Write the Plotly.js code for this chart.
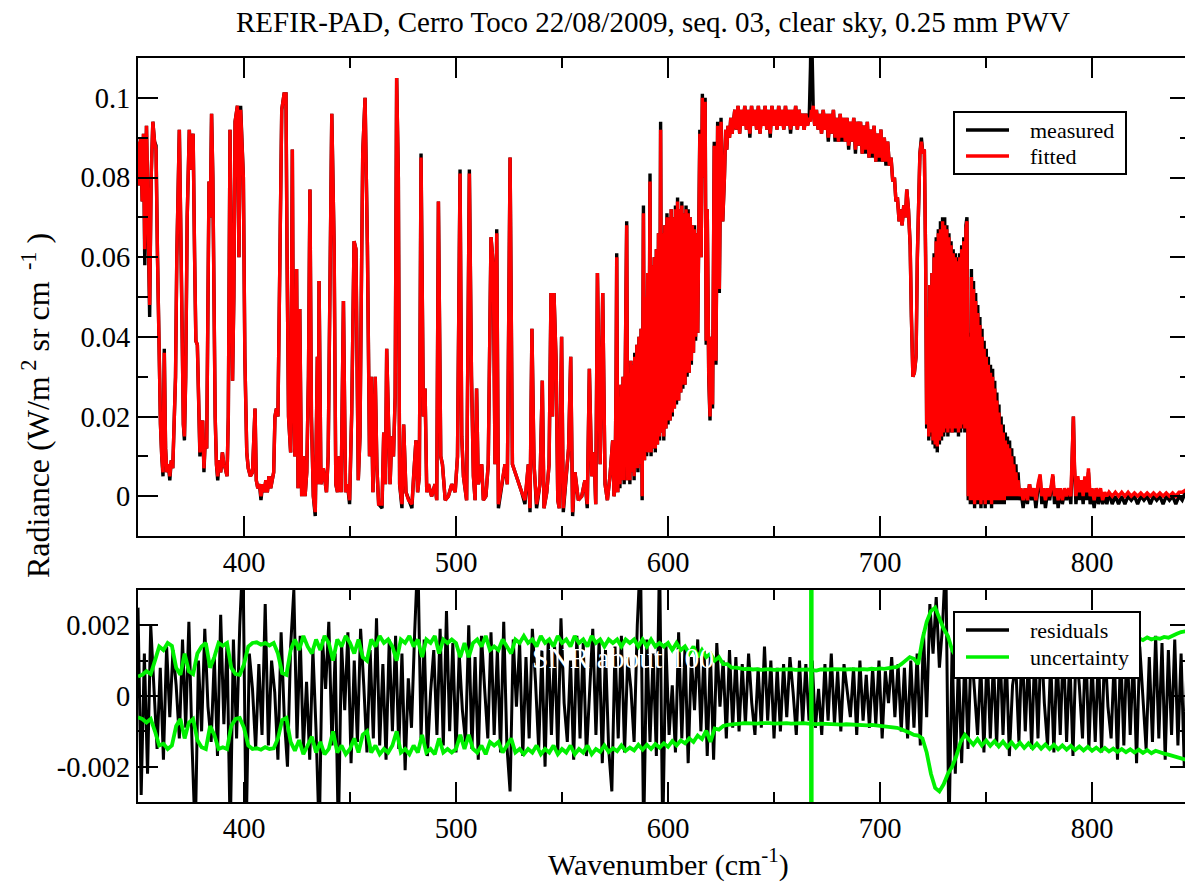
<!DOCTYPE html>
<html>
<head>
<meta charset="utf-8">
<script src="https://cdn.plot.ly/plotly-3.0.1.min.js"></script>
<style>
html,body{margin:0;padding:0;overflow:hidden;background:#fff;}
#chart{width:1195px;height:882px;}
</style>
</head>
<body>
<div id="chart"></div>
<script>
// ---------- Spectrum: wavenumber (cm-1), measured and fitted radiance ----------
const wnA = [350.0,350.6,351.2,352.0,352.6,353.2,354.0,354.7,355.5,356.2,
357.0,357.8,358.5,359.2,360.0,360.6,361.2,361.8,362.4,363.0,
363.6,364.3,365.0,365.7,366.4,367.0,367.7,368.3,369.0,369.5,
370.1,370.8,371.4,371.9,372.5,373.2,374.2,375.0,376.0,376.7,
377.3,378.0,378.6,379.2,379.9,380.5,381.1,381.7,382.4,383.0,
383.5,384.1,384.7,385.3,385.8,386.4,387.0,387.6,388.3,389.0,
389.8,390.5,391.2,392.0,392.6,393.4,394.0,394.6,395.2,395.8,
396.9,397.6,398.4,399.1,399.7,400.4,401.3,402.0,403.0,404.0,
404.6,405.2,405.8,406.5,407.3,408.0,408.8,409.5,410.3,411.0,
411.8,412.6,413.3,414.0,414.6,415.3,416.0,416.8,417.8,418.9,
419.8];
const measA = [0.089,0.078,0.090,0.074,0.091,0.058,0.093,0.072,0.045,0.080,
0.094,0.089,0.088,0.060,0.030,0.018,0.010,0.005,0.037,0.012,
0.006,0.008,0.004,0.009,0.007,0.019,0.030,0.060,0.085,0.092,
0.070,0.030,0.018,0.014,0.030,0.070,0.092,0.082,0.091,0.060,
0.039,0.038,0.018,0.010,0.015,0.019,0.006,0.014,0.012,0.040,
0.079,0.070,0.096,0.080,0.045,0.020,0.008,0.004,0.009,0.006,
0.011,0.008,0.007,0.005,0.020,0.092,0.060,0.029,0.050,0.094,
0.098,0.060,0.098,0.088,0.080,0.035,0.011,0.007,0.005,0.006,
0.012,0.022,0.004,0.002,0.003,-0.001,0.003,0.001,0.004,0.001,
0.005,0.002,0.004,0.006,0.020,0.022,0.020,0.060,0.097,0.101,
0.101];
const fitA = [0.089,0.078,0.090,0.074,0.091,0.062,0.093,0.072,0.048,0.080,
0.094,0.089,0.087,0.060,0.030,0.018,0.010,0.006,0.036,0.012,
0.006,0.008,0.005,0.009,0.007,0.019,0.030,0.060,0.085,0.092,
0.070,0.030,0.018,0.015,0.030,0.070,0.092,0.082,0.091,0.060,
0.039,0.038,0.018,0.011,0.015,0.019,0.007,0.014,0.012,0.040,
0.079,0.070,0.096,0.080,0.045,0.020,0.008,0.005,0.009,0.006,
0.011,0.008,0.007,0.005,0.020,0.092,0.060,0.029,0.050,0.094,
0.098,0.060,0.097,0.088,0.080,0.035,0.011,0.007,0.005,0.006,
0.012,0.022,0.004,0.002,0.003,0.000,0.003,0.001,0.004,0.001,
0.005,0.002,0.004,0.006,0.020,0.022,0.020,0.060,0.097,0.101,
0.101];

const wnB = [420.3,421.0,422.0,422.8,423.3,424.0,424.8,425.5,426.3,427.2,
428.0,428.8,429.6,430.4,431.1,431.8,432.7,433.6,434.6,435.0,
435.4,436.3,437.4,438.9,439.7,440.4,441.4,442.5,443.3,444.1,
444.9,445.8,446.9,447.9,448.8,449.8,450.8,451.9,452.8,453.9,
454.7,455.5,456.0,457.1,458.2,459.2,460.0,460.8,461.9,462.7,
463.5,465.1,465.9,466.7,467.3,468.1,468.9,469.7,470.5,471.3,
472.0,472.8,473.4,474.5,475.3,476.4,477.6,479.2,480.0,481.1,
481.9,482.7,483.5,484.6,485.4,486.2,487.0,488.5,490.1,490.9,
491.7,492.8,493.6,494.9,496.4,498.0,499.6,500.7,501.9,502.7,
503.5,505.0];
const measB = [0.061,0.020,0.011,0.087,0.029,0.010,0.057,0.002,0.047,0.000,
0.010,0.000,0.006,0.030,0.077,0.020,0.000,-0.005,0.035,0.003,
0.054,0.003,0.007,0.001,0.010,0.050,0.096,0.063,0.003,0.001,
0.010,0.001,0.049,0.001,0.003,-0.002,0.021,0.064,0.062,0.004,
0.015,0.060,0.086,0.100,0.063,0.010,0.030,0.001,0.030,0.007,
-0.002,-0.003,0.016,0.003,0.037,0.020,0.003,0.015,0.010,0.025,
0.105,0.080,0.003,-0.003,0.018,0.001,-0.001,-0.003,0.005,0.014,
0.001,0.005,0.086,0.020,0.027,0.001,0.003,0.000,0.003,-0.001,
0.074,0.010,0.008,-0.001,0.000,0.003,0.001,0.010,0.082,0.015,
0.005,-0.001];
const fitB = [0.061,0.020,0.011,0.087,0.029,0.010,0.057,0.002,0.047,0.000,
0.010,0.000,0.006,0.030,0.077,0.020,0.000,-0.004,0.035,0.003,
0.054,0.003,0.007,0.001,0.010,0.050,0.096,0.063,0.003,0.001,
0.010,0.001,0.049,0.001,0.003,-0.001,0.021,0.064,0.062,0.004,
0.015,0.060,0.086,0.100,0.063,0.010,0.030,0.001,0.030,0.007,
-0.002,-0.002,0.016,0.003,0.037,0.020,0.003,0.015,0.010,0.025,
0.105,0.080,0.003,-0.002,0.018,0.001,-0.001,-0.002,0.005,0.014,
0.001,0.005,0.085,0.020,0.027,0.001,0.003,0.000,0.003,-0.001,
0.074,0.010,0.008,-0.001,0.000,0.003,0.001,0.010,0.081,0.015,
0.005,-0.001];

const wnC = [506.3,507.3,508.2,509.0,509.7,510.5,512.1,512.9,514.1,515.2,
516.5,517.6,518.4,519.2,520.0,521.5,523.1,524.2,525.5,526.6,
527.8,529.4,531.0,532.5,534.1,534.9,535.8,536.8,538.0,539.6,
540.7,541.5,542.8,543.9,544.8,545.5,546.2,547.2,548.0,548.7,
549.8,550.6,552.2,553.1,554.1,555.0,556.1,557.7,559.3,560.8,
561.9,562.9,564.0,565.1,565.9,566.7,568.0,569.2,570.3,571.4,
572.6,573.9,574.5];
const measC = [0.082,0.030,0.005,-0.001,0.027,0.003,0.008,-0.001,0.000,0.008,
0.065,0.058,0.008,0.067,-0.003,0.003,0.008,0.003,0.085,0.008,
0.006,0.004,0.001,-0.002,0.008,-0.004,0.042,0.008,-0.003,0.003,
0.029,-0.003,0.001,0.008,0.051,0.020,0.051,0.034,-0.001,-0.003,
0.040,-0.004,0.006,0.012,0.035,-0.005,0.006,-0.001,0.000,0.004,
-0.003,0.032,0.005,0.011,-0.002,0.056,0.008,0.051,0.003,-0.001,
0.005,0.014,0.000];
const fitC = [0.081,0.030,0.005,-0.001,0.027,0.003,0.008,-0.001,0.000,0.008,
0.065,0.058,0.008,0.066,-0.002,0.003,0.008,0.003,0.085,0.008,
0.006,0.004,0.001,-0.001,0.008,-0.003,0.042,0.008,-0.002,0.003,
0.029,-0.003,0.001,0.008,0.051,0.020,0.051,0.034,-0.001,-0.003,
0.040,-0.003,0.006,0.012,0.035,-0.004,0.006,-0.001,0.000,0.004,
-0.002,0.032,0.005,0.011,-0.002,0.056,0.008,0.051,0.003,-0.001,
0.005,0.014,0.000];

const wnD = [575.0,575.5,575.8,576.3,576.8,577.3,577.8,578.3,578.8,579.3,
579.8,580.5,581.0,581.5,582.0,582.5,583.0,583.5,584.0,584.3,
584.8,585.3,585.8,586.3,586.8,587.3,587.8,588.4,588.9,589.4,
589.9,590.4,590.9,591.5,592.0,592.5,593.0,593.5,594.0,594.5,
595.0,595.5,596.0,596.5,597.0,597.5,598.0,598.5,599.0,599.5,
600.0,600.5,601.0,601.5,602.0,602.5,603.0,603.5,604.0,604.5,
605.0,605.5,606.0,606.5,607.0,607.5,608.0,608.5,609.0,609.5,
610.0,610.5,611.0,611.5,612.0,612.5,613.0,613.5,614.0,614.5,
615.0,615.6,616.2,616.8,617.5,618.0,618.5,619.2,619.8,620.4,
621.0,621.8,622.6,623.4,624.2,625.0,625.8,626.6,627.2,627.7,
628.3,629.0,629.6,630.2,630.8];
const measD = [0.002,0.030,0.061,0.001,0.025,0.002,0.028,0.004,0.030,0.003,
0.033,0.069,0.004,0.031,0.003,0.034,0.006,0.033,0.004,0.036,
0.007,0.038,0.006,0.040,0.008,0.042,-0.001,0.073,0.009,0.050,
0.010,0.056,0.011,0.081,0.010,0.058,0.012,0.060,0.011,0.062,
0.013,0.066,0.014,0.094,0.016,0.066,0.014,0.068,0.017,0.071,
0.018,0.070,0.019,0.072,0.020,0.070,0.022,0.073,0.023,0.075,
0.024,0.072,0.026,0.074,0.027,0.071,0.028,0.073,0.030,0.072,
0.031,0.070,0.033,0.068,0.036,0.068,0.039,0.066,0.041,0.075,
0.092,0.060,0.101,0.080,0.100,0.038,0.072,0.030,0.019,0.040,
0.022,0.089,0.033,0.094,0.051,0.095,0.069,0.080,0.092,0.087,
0.093,0.090,0.095,0.091,0.094];
const fitD = [0.002,0.030,0.060,0.001,0.025,0.003,0.028,0.004,0.030,0.004,
0.033,0.068,0.004,0.031,0.004,0.034,0.006,0.033,0.005,0.035,
0.007,0.038,0.007,0.040,0.008,0.042,0.000,0.071,0.009,0.050,
0.011,0.056,0.011,0.079,0.011,0.058,0.012,0.060,0.012,0.062,
0.013,0.066,0.015,0.092,0.016,0.066,0.015,0.068,0.017,0.070,
0.019,0.070,0.019,0.072,0.021,0.070,0.022,0.072,0.024,0.074,
0.024,0.072,0.026,0.073,0.028,0.071,0.028,0.072,0.031,0.071,
0.031,0.070,0.034,0.068,0.036,0.067,0.040,0.066,0.041,0.074,
0.091,0.060,0.100,0.080,0.099,0.039,0.072,0.031,0.020,0.040,
0.023,0.088,0.034,0.093,0.052,0.094,0.069,0.080,0.092,0.087,
0.093,0.090,0.095,0.091,0.094];

const wnE = [631.5,632.2,633.0,633.8,634.6,635.4,636.2,637.0,637.8,638.6,
639.4,640.2,641.0,641.8,642.6,643.4,644.2,645.0,645.8,646.6,
647.4,648.2,649.0,649.8,650.6,651.4,652.2,653.0,653.8,654.6,
655.4,656.2,657.0,657.8,658.6,659.4,660.2,661.0,661.8,662.6,
663.4,664.2,665.0,665.8,666.6,667.2,667.6,668.0,668.5,669.2,
670.0,670.8,671.6,672.4,673.2,674.0,674.8,675.6,676.4,677.2,
678.0,678.8,679.6,680.4,681.2,682.0,682.8,683.6,684.4,685.2,
686.0,686.8,687.6,688.4,689.2,690.0,690.8,691.6,692.4,693.2,
694.0,694.8,695.6,696.4,697.2,698.0,698.8,699.6,700.4,701.2,
702.0,702.8,703.6,704.4];
const measE = [0.097,0.092,0.098,0.091,0.097,0.093,0.098,0.092,0.097,0.090,
0.098,0.093,0.097,0.092,0.098,0.091,0.097,0.093,0.098,0.092,
0.097,0.090,0.098,0.093,0.097,0.092,0.098,0.093,0.097,0.092,
0.098,0.093,0.097,0.091,0.097,0.093,0.098,0.092,0.097,0.093,
0.096,0.092,0.096,0.093,0.095,0.108,0.125,0.110,0.097,0.093,
0.097,0.092,0.096,0.091,0.097,0.092,0.096,0.089,0.096,0.091,
0.097,0.089,0.095,0.089,0.096,0.089,0.095,0.089,0.095,0.087,
0.094,0.089,0.095,0.086,0.094,0.088,0.094,0.086,0.093,0.086,
0.094,0.085,0.092,0.085,0.093,0.084,0.091,0.084,0.092,0.084,
0.090,0.083,0.089,0.083];
const fitE = [0.097,0.092,0.098,0.091,0.097,0.093,0.098,0.092,0.097,0.091,
0.098,0.093,0.097,0.092,0.098,0.091,0.097,0.093,0.098,0.092,
0.097,0.091,0.098,0.093,0.097,0.092,0.098,0.093,0.097,0.092,
0.098,0.093,0.097,0.092,0.097,0.093,0.098,0.092,0.097,0.093,
0.096,0.092,0.096,0.093,0.095,0.094,0.097,0.096,0.098,0.093,
0.097,0.092,0.096,0.091,0.097,0.092,0.096,0.090,0.096,0.091,
0.097,0.090,0.095,0.089,0.096,0.090,0.095,0.089,0.095,0.088,
0.094,0.089,0.095,0.087,0.094,0.088,0.094,0.086,0.093,0.087,
0.094,0.085,0.092,0.086,0.093,0.084,0.091,0.085,0.092,0.084,
0.090,0.084,0.089,0.083];

const wnF = [705.2,706.0,706.8,707.5,708.2,709.0,709.6,710.4,711.2,712.0,
712.6,713.4,714.2,714.8,715.5,716.2,717.0,717.6,718.2,718.8,
719.5,720.2,720.9,721.5,722.0,722.5,723.0,723.5,724.0,724.5,
725.0,725.5,726.0,726.5,727.0,727.5,728.0,728.5,729.0,729.5,
730.0,730.5,731.0,731.5,732.0,732.5,733.0,733.5,734.0,734.5,
735.0,735.5,736.0,736.5,737.0,737.5,738.0,738.5,739.0,739.5,
740.0,740.5,741.0,741.6,742.1,742.6,743.1,743.6,744.1,744.6,
745.1,745.6,746.1,746.6,747.1,747.6,748.1,748.6,749.1,749.6,
750.1,750.6,751.1,751.6,752.1,752.6,753.1,753.6,754.1,754.6,
755.1,755.6,756.1,756.6,757.1,757.6,758.1,758.6,759.1,759.6,
760.1,760.6,761.1,761.6,762.1,762.6,763.1,763.6,764.1,764.6,
765.1,765.8];
const measF = [0.085,0.079,0.080,0.074,0.075,0.069,0.072,0.068,0.073,0.070,
0.077,0.072,0.063,0.045,0.030,0.031,0.035,0.060,0.075,0.086,
0.090,0.086,0.087,0.060,0.017,0.045,0.014,0.053,0.015,0.056,
0.013,0.061,0.012,0.065,0.011,0.067,0.013,0.069,0.014,0.070,
0.015,0.070,0.016,0.068,0.015,0.066,0.016,0.064,0.016,0.062,
0.016,0.061,0.016,0.060,0.015,0.061,0.016,0.063,0.017,0.065,
0.016,0.068,0.070,-0.001,0.041,-0.002,0.057,-0.002,0.054,-0.003,
0.051,-0.002,0.048,-0.002,0.045,-0.003,0.042,-0.002,0.039,-0.003,
0.037,-0.002,0.035,-0.002,0.033,-0.003,0.032,-0.002,0.029,-0.002,
0.026,-0.002,0.023,-0.002,0.020,-0.002,0.018,-0.002,0.016,-0.001,
0.015,-0.001,0.014,-0.001,0.012,-0.001,0.010,-0.001,0.008,-0.001,
0.006,-0.001];
const fitF = [0.085,0.079,0.080,0.074,0.075,0.069,0.072,0.068,0.073,0.070,
0.077,0.072,0.063,0.045,0.030,0.031,0.035,0.060,0.075,0.086,
0.089,0.086,0.087,0.060,0.018,0.045,0.015,0.053,0.016,0.056,
0.014,0.060,0.013,0.064,0.0125,0.066,0.014,0.067,0.015,0.069,
0.016,0.068,0.017,0.067,0.016,0.065,0.017,0.063,0.016,0.061,
0.017,0.060,0.017,0.059,0.016,0.060,0.017,0.062,0.018,0.064,
0.017,0.067,0.069,0.000,0.040,-0.001,0.055,-0.001,0.052,-0.002,
0.049,-0.001,0.046,-0.001,0.043,-0.002,0.040,-0.001,0.037,-0.002,
0.035,-0.001,0.033,-0.001,0.031,-0.002,0.030,-0.001,0.027,-0.001,
0.024,-0.001,0.021,-0.001,0.018,-0.001,0.016,-0.001,0.014,0.000,
0.013,0.000,0.012,0.000,0.010,0.000,0.008,0.000,0.006,0.000,
0.004,0.000];

const wnG = [766.5,767.5,768.5,769.5,770.5,771.5,772.5,773.5,774.5,775.5,
776.3,777.2,778.0,779.0,780.0,781.0,781.5,782.3,783.2,784.0,
785.0,786.0,787.0,788.0,789.0,790.0,790.7,791.2,791.7,792.4,
793.3,794.2,795.0,795.8,796.6,797.4,798.3,799.1,800.0,801.0,
802.0,803.0,804.0,805.0,806.0,807.0,808.0,809.5,811.0,812.5,
814.0,815.5,817.0,818.5,820.0,821.5,823.0,824.5,826.0,827.5,
829.0,830.5,832.0,833.5,835.0,836.5,838.0,839.5,841.0,842.5,
844.0,846.0];
const measG = [0.001,-0.003,0.002,-0.002,0.003,-0.001,0.002,-0.003,0.002,0.005,
-0.002,0.002,-0.003,0.001,-0.001,0.003,0.005,-0.002,0.002,-0.003,
0.002,-0.002,0.001,-0.001,0.002,-0.002,0.009,0.020,0.007,-0.002,
0.004,-0.001,0.003,-0.002,0.004,-0.001,0.006,-0.002,0.001,-0.003,
0.002,-0.002,0.001,-0.002,0.000,-0.002,0.001,-0.002,0.000,-0.002,
0.000,-0.002,0.000,-0.001,0.000,-0.002,0.000,-0.001,0.000,-0.002,
0.000,-0.001,0.000,-0.002,0.000,-0.001,0.000,-0.002,0.000,-0.001,
0.001,0.001];
const fitG = [0.002,-0.001,0.002,-0.001,0.003,0.000,0.002,-0.001,0.003,0.0055,
0.000,0.002,-0.001,0.002,0.000,0.003,0.0055,0.000,0.002,-0.001,
0.002,-0.001,0.002,0.000,0.002,0.000,0.010,0.020,0.008,0.000,
0.005,0.001,0.004,0.000,0.005,0.001,0.007,0.000,0.002,-0.001,
0.002,0.000,0.002,-0.001,0.001,0.000,0.001,0.000,0.001,0.000,
0.001,0.000,0.001,0.000,0.0008,0.000,0.0008,0.000,0.0008,0.000,
0.0008,0.000,0.0008,0.000,0.0008,0.000,0.0008,0.000,0.001,0.001,
0.0015,0.0015];

// ---------- Residuals (uniform grid: start 350 cm-1, step 1.5 cm-1) ----------
const residStart = 350, residStep = 1.5;
const residuals = [
0.0025,-0.0028,0.0012,-0.0022,0.0020,0.0004,-0.0015,0.0008,-0.0018,0.0014,
-0.0006,0.0013,0.0003,-0.0012,0.0016,-0.0009,0.0021,-0.0014,-0.0040,0.0010,
-0.0010,0.0019,-0.0003,-0.0013,0.0011,-0.0017,0.0023,-0.0008,0.0015,-0.0040,
0.0016,-0.0012,0.0020,0.0040,-0.0040,0.0012,0.0002,-0.0015,0.0009,-0.0011,
0.0026,-0.0014,0.0010,0.0001,-0.0018,0.0018,-0.0006,-0.0020,0.0014,0.0030,
-0.0012,0.0017,-0.0015,0.0004,-0.0018,0.0013,-0.0010,-0.0040,0.0016,0.0002,
0.0021,-0.0014,0.0012,-0.0040,0.0015,-0.0004,0.0018,-0.0019,0.0010,-0.0013,
0.0019,0.0003,-0.0016,0.0013,-0.0012,0.0022,-0.0014,0.0009,-0.0018,0.0016,
-0.0010,0.0017,-0.0015,0.0012,-0.0021,0.0005,-0.0009,0.0018,0.0040,-0.0012,
0.0016,-0.0017,0.0001,0.0013,-0.0011,0.0019,-0.0014,0.0024,-0.0010,0.0015,
-0.0016,0.0012,-0.0004,-0.0013,0.0020,-0.0015,0.0011,-0.0018,0.0017,0.0002,
-0.0012,0.0018,-0.0011,0.0013,-0.0016,0.0021,-0.0014,-0.0027,0.0016,-0.0003,
0.0015,-0.0017,0.0011,-0.0012,0.0019,0.0004,-0.0015,0.0013,-0.0020,0.0016,
-0.0011,0.0014,-0.0016,0.0022,-0.0002,-0.0013,0.0010,-0.0018,0.0017,-0.0012,
0.0015,-0.0017,0.0003,0.0019,-0.0011,0.0016,-0.0019,0.0013,-0.0015,-0.0027,
0.0014,-0.0012,0.0017,-0.0016,0.0011,0.0002,-0.0013,0.0020,0.0040,-0.0040,
0.0016,-0.0013,0.0012,-0.0017,0.0040,-0.0040,0.0015,-0.0011,0.0003,-0.0016,
0.0018,-0.0012,0.0014,-0.0019,0.0011,-0.0004,0.0016,-0.0010,0.0013,-0.0017,
0.0012,-0.0018,0.0015,-0.0003,0.0010,-0.0012,0.0013,-0.0009,0.0011,-0.0010,
0.0009,-0.0008,0.0012,-0.0002,-0.0011,0.0008,-0.0009,0.0014,-0.0007,0.0010,
-0.0012,0.0008,-0.0010,0.0009,-0.0006,0.0011,0.0001,-0.0011,0.0010,-0.0008,
0.0009,-0.0007,0.0010,-0.0009,0.0002,-0.0011,0.0009,-0.0007,0.0012,-0.0008,
0.0007,-0.0010,0.0009,0.0001,-0.0006,0.0008,-0.0011,0.0010,-0.0007,0.0006,
-0.0009,0.0008,-0.0008,0.0010,-0.0012,0.0007,-0.0002,0.0011,-0.0006,0.0009,
-0.0010,0.0008,-0.0012,0.0010,-0.0009,0.0012,-0.0014,0.0018,-0.0006,0.0026,
0.0012,0.0028,0.0008,0.0020,0.0040,-0.0040,0.0014,-0.0022,0.0010,-0.0019,
0.0012,-0.0015,0.0014,0.0002,-0.0011,0.0009,-0.0016,0.0013,-0.0012,0.0010,
-0.0014,0.0015,-0.0011,0.0012,-0.0017,0.0003,0.0009,-0.0013,0.0016,-0.0010,
0.0011,-0.0015,0.0013,-0.0012,0.0017,-0.0002,-0.0014,0.0010,-0.0016,0.0012,
-0.0011,0.0015,-0.0013,0.0011,-0.0017,0.0014,0.0003,-0.0012,0.0016,-0.0015,
0.0010,-0.0013,0.0012,-0.0016,0.0015,-0.0003,-0.0012,0.0011,-0.0018,0.0013,
-0.0014,0.0016,-0.0011,0.0012,-0.0019,0.0014,0.0001,-0.0015,0.0011,-0.0013,
0.0017,-0.0012,0.0015,-0.0018,0.0013,-0.0011,0.0016,-0.0014,0.0012,-0.0020,0.0015];

// ---------- Uncertainty envelope (uniform grid: start 350 cm-1, step 2 cm-1) ----------
const uncStart = 350, uncStep = 2;
const uncUpper = [
0.00055,0.00060,0.00070,0.00062,0.00100,0.00140,0.00130,0.00150,0.00142,0.00080,
0.00060,0.00120,0.00070,0.00062,0.00120,0.00140,0.00150,0.00080,0.00110,0.00150,
0.00142,0.00150,0.00080,0.00062,0.00060,0.00090,0.00140,0.00150,0.00152,0.00145,
0.00150,0.00143,0.00150,0.00120,0.00065,0.00060,0.00130,0.00160,0.00130,0.00170,
0.00140,0.00120,0.00160,0.00130,0.00170,0.00150,0.00100,0.00160,0.00140,0.00170,
0.00150,0.00120,0.00160,0.00110,0.00100,0.00160,0.00140,0.00170,0.00150,0.00160,
0.00140,0.00100,0.00160,0.00150,0.00170,0.00140,0.00160,0.00110,0.00160,0.00150,
0.00170,0.00120,0.00160,0.00150,0.00160,0.00150,0.00110,0.00150,0.00110,0.00150,
0.00160,0.00140,0.00170,0.00130,0.00140,0.00130,0.00160,0.00140,0.00120,0.00160,
0.00150,0.00170,0.00150,0.00160,0.00140,0.00170,0.00150,0.00160,0.00140,0.00170,
0.00150,0.00160,0.00140,0.00170,0.00150,0.00160,0.00140,0.00170,0.00150,0.00160,
0.00140,0.00160,0.00150,0.00160,0.00140,0.00160,0.00150,0.00160,0.00140,0.00160,
0.00140,0.00160,0.00140,0.00150,0.00140,0.00150,0.00130,0.00150,0.00130,0.00140,
0.00120,0.00140,0.00110,0.00130,0.00110,0.00120,0.00100,0.00110,0.00090,0.00090,
0.00080,0.00080,0.00078,0.00076,0.00077,0.00075,0.00076,0.00074,0.00075,0.00076,
0.00074,0.00075,0.00074,0.00075,0.00076,0.00074,0.00075,0.00074,0.00075,0.00073,
0.00072,0.00075,0.00074,0.00075,0.00076,0.00075,0.00074,0.00075,0.00076,0.00075,
0.00075,0.00076,0.00075,0.00077,0.00076,0.00078,0.00077,0.00079,0.00080,0.00082,
0.00090,0.00100,0.00110,0.00105,0.00090,0.00160,0.00210,0.00240,0.00250,0.00220,
0.00190,0.00170,0.00130,0.00110,0.00100,0.00105,0.00112,0.00106,0.00118,0.00112,
0.00124,0.00116,0.00128,0.00120,0.00131,0.00124,0.00134,0.00127,0.00138,0.00130,
0.00141,0.00133,0.00143,0.00136,0.00146,0.00139,0.00148,0.00141,0.00150,0.00143,
0.00152,0.00145,0.00154,0.00147,0.00156,0.00149,0.00158,0.00151,0.00160,0.00153,
0.00161,0.00155,0.00162,0.00157,0.00163,0.00158,0.00164,0.00158,0.00166,0.00160,
0.00164,0.00162,0.00167,0.00165,0.00172,0.00176,0.00181,0.00183,0.00185];
const uncLower = [
-0.00060,-0.00065,-0.00075,-0.00065,-0.00100,-0.00140,-0.00135,-0.00150,-0.00140,-0.00085,
-0.00065,-0.00120,-0.00075,-0.00065,-0.00125,-0.00145,-0.00150,-0.00085,-0.00110,-0.00150,
-0.00145,-0.00150,-0.00085,-0.00065,-0.00062,-0.00090,-0.00140,-0.00150,-0.00148,-0.00152,
-0.00145,-0.00150,-0.00148,-0.00120,-0.00068,-0.00062,-0.00130,-0.00155,-0.00125,-0.00165,
-0.00140,-0.00115,-0.00160,-0.00130,-0.00165,-0.00150,-0.00100,-0.00160,-0.00140,-0.00165,
-0.00150,-0.00120,-0.00160,-0.00110,-0.00100,-0.00160,-0.00140,-0.00165,-0.00150,-0.00160,
-0.00140,-0.00100,-0.00160,-0.00150,-0.00165,-0.00140,-0.00160,-0.00110,-0.00160,-0.00150,
-0.00165,-0.00120,-0.00160,-0.00150,-0.00160,-0.00150,-0.00110,-0.00150,-0.00110,-0.00150,
-0.00160,-0.00140,-0.00165,-0.00130,-0.00140,-0.00130,-0.00160,-0.00140,-0.00120,-0.00160,
-0.00150,-0.00165,-0.00150,-0.00160,-0.00140,-0.00165,-0.00150,-0.00160,-0.00140,-0.00165,
-0.00150,-0.00160,-0.00140,-0.00165,-0.00150,-0.00160,-0.00140,-0.00165,-0.00150,-0.00158,
-0.00140,-0.00158,-0.00148,-0.00156,-0.00140,-0.00155,-0.00146,-0.00154,-0.00138,-0.00152,
-0.00138,-0.00150,-0.00136,-0.00146,-0.00134,-0.00144,-0.00128,-0.00140,-0.00126,-0.00134,
-0.00120,-0.00130,-0.00112,-0.00122,-0.00098,-0.00130,-0.00092,-0.00095,-0.00085,-0.00082,
-0.00080,-0.00079,-0.00078,-0.00077,-0.00078,-0.00077,-0.00078,-0.00077,-0.00076,-0.00077,
-0.00078,-0.00077,-0.00076,-0.00077,-0.00078,-0.00077,-0.00076,-0.00077,-0.00078,-0.00079,
-0.00080,-0.00078,-0.00079,-0.00080,-0.00079,-0.00080,-0.00081,-0.00080,-0.00081,-0.00082,
-0.00081,-0.00082,-0.00083,-0.00082,-0.00083,-0.00084,-0.00085,-0.00086,-0.00088,-0.00090,
-0.00094,-0.00098,-0.00104,-0.00110,-0.00112,-0.00120,-0.00160,-0.00220,-0.00260,-0.00270,
-0.00250,-0.00220,-0.00200,-0.00170,-0.00130,-0.00110,-0.00125,-0.00138,-0.00122,-0.00140,
-0.00126,-0.00141,-0.00128,-0.00143,-0.00129,-0.00145,-0.00131,-0.00146,-0.00132,-0.00147,
-0.00134,-0.00148,-0.00135,-0.00149,-0.00137,-0.00150,-0.00138,-0.00151,-0.00140,-0.00152,
-0.00141,-0.00153,-0.00143,-0.00154,-0.00144,-0.00155,-0.00146,-0.00156,-0.00147,-0.00157,
-0.00149,-0.00158,-0.00150,-0.00159,-0.00151,-0.00160,-0.00152,-0.00161,-0.00153,-0.00162,
-0.00155,-0.00160,-0.00163,-0.00166,-0.00170,-0.00173,-0.00177,-0.00180,-0.00182];
// Uncertainty diverges at the CO2 Q-branch (about 667.6 cm-1): full-height spike
const uncSpikeWn = [667.6, 667.6];
const uncSpikeVal = [0.02, -0.02];

// ---------- Text ----------
const titleText = 'REFIR-PAD, Cerro Toco 22/08/2009, seq. 03, clear sky, 0.25 mm PWV';
const yTitleText = 'Radiance (W/m<sup>\u00A02</sup> sr cm<sup>\u00A0\u00A0-1</sup>\u00A0)';
const xTitleText = 'Wavenumber (cm<sup>-1</sup>)';
const snrText = 'SNR about 100';
const topLegendLabels = ['measured', 'fitted'];
const bottomLegendLabels = ['residuals', 'uncertainty'];
const resTickVals = [-0.002, 0, 0.002];
const resTickText = ['-0.002', '0', '0.002'];

// ---------- Assemble ----------
const wn = [].concat(wnA, wnB, wnC, wnD, wnE, wnF, wnG);
const measured = [].concat(measA, measB, measC, measD, measE, measF, measG);
const fitted = [].concat(fitA, fitB, fitC, fitD, fitE, fitF, fitG);
[[wnA,measA,fitA],[wnB,measB,fitB],[wnC,measC,fitC],[wnD,measD,fitD],[wnE,measE,fitE],[wnF,measF,fitF],[wnG,measG,fitG]].forEach((s,i)=>{
  if (s[0].length!==s[1].length || s[0].length!==s[2].length) throw new Error('segment '+i+' length mismatch '+s.map(a=>a.length).join(','));
});
for (let i=1;i<wn.length;i++){ if (wn[i]<=wn[i-1]) throw new Error('non monotonic at '+i+' '+wn[i]); }
if (uncUpper.length!==uncLower.length) throw new Error('unc mismatch '+uncUpper.length+' '+uncLower.length);

const FONT = 'Liberation Serif';
const XR = [350, 846.2];
const GREEN = '#00f000';

const traces = [
  {x: wn, y: measured, type:'scatter', mode:'lines', name:topLegendLabels[0], line:{color:'#000000', width:3.4}, xaxis:'x', yaxis:'y'},
  {x: wn, y: fitted, type:'scatter', mode:'lines', name:topLegendLabels[1], line:{color:'#ff0000', width:3.4}, xaxis:'x', yaxis:'y'},
  {x0: residStart, dx: residStep, y: residuals, type:'scatter', mode:'lines', name:bottomLegendLabels[0], line:{color:'#000000', width:3}, xaxis:'x2', yaxis:'y2'},
  {x0: uncStart, dx: uncStep, y: uncUpper, type:'scatter', mode:'lines', name:bottomLegendLabels[1], line:{color:GREEN, width:3.8}, xaxis:'x2', yaxis:'y2'},
  {x0: uncStart, dx: uncStep, y: uncLower, type:'scatter', mode:'lines', name:bottomLegendLabels[1], line:{color:GREEN, width:3.8}, xaxis:'x2', yaxis:'y2'},
  {x: uncSpikeWn, y: uncSpikeVal, type:'scatter', mode:'lines', name:bottomLegendLabels[1], line:{color:GREEN, width:4.5}, xaxis:'x2', yaxis:'y2'}
];

const axisBase = {
  showline:true, linecolor:'#000', linewidth:2, mirror:'allticks',
  ticks:'inside', ticklen:20, tickwidth:2, tickcolor:'#000',
  showgrid:false, zeroline:false,
  tickfont:{family:FONT, size:28.5, color:'#000'},
  ticklabelstandoff: 0
};
const minorX = {ticks:'inside', ticklen:10, tickwidth:2, tickcolor:'#000', dtick:50, tick0:0, showgrid:false};

// legend boxes (pixel positions converted to paper fractions of the 1052x744 plot area)
const PX = v => (v-138)/1052, PY = v => (802-v)/744;
const shapes = [
  {type:'rect', xref:'paper', yref:'paper', x0:PX(954), x1:PX(1126), y0:PY(174), y1:PY(112), line:{color:'#000', width:2}, fillcolor:'#fff', layer:'above'},
  {type:'line', xref:'paper', yref:'paper', x0:PX(966), x1:PX(1009), y0:PY(130), y1:PY(130), line:{color:'#000', width:3.4}, layer:'above'},
  {type:'line', xref:'paper', yref:'paper', x0:PX(966), x1:PX(1009), y0:PY(156), y1:PY(156), line:{color:'#ff0000', width:3.4}, layer:'above'},
  {type:'rect', xref:'paper', yref:'paper', x0:PX(954), x1:PX(1140), y0:PY(678), y1:PY(612), line:{color:'#000', width:2}, fillcolor:'#fff', layer:'above'},
  {type:'line', xref:'paper', yref:'paper', x0:PX(966), x1:PX(1009), y0:PY(630), y1:PY(630), line:{color:'#000', width:3.4}, layer:'above'},
  {type:'line', xref:'paper', yref:'paper', x0:PX(966), x1:PX(1009), y0:PY(657), y1:PY(657), line:{color:GREEN, width:3.4}, layer:'above'}
];
const legFont = {family:FONT, size:22, color:'#000'};
const legendTexts = [
  {text:topLegendLabels[0], y:PY(130)}, {text:topLegendLabels[1], y:PY(156)},
  {text:bottomLegendLabels[0], y:PY(630)}, {text:bottomLegendLabels[1], y:PY(657)}
].map(o => ({text:o.text, xref:'paper', yref:'paper', x:PX(1028), y:o.y, xanchor:'left', yanchor:'middle', showarrow:false, font:legFont}));

const layout = {
  width:1195, height:882,
  margin:{l:138, r:5, t:58, b:80},
  paper_bgcolor:'#fff', plot_bgcolor:'#fff',
  font:{family:FONT, size:28, color:'#000'},
  title:{text:titleText, x:0.4895, xref:'paper', xanchor:'center', y:0.975, yref:'container', yanchor:'middle', font:{family:FONT, size:29, color:'#000'}},
  showlegend:false,
  xaxis: Object.assign({}, axisBase, {anchor:'y', domain:[0,1], range:XR, dtick:100, tick0:0, minor:minorX}),
  yaxis: Object.assign({}, axisBase, {anchor:'x', domain:[0.3575,1], range:[-0.01,0.11], dtick:0.02, tick0:0,
    minor:{ticks:'inside', ticklen:10, tickwidth:2, tickcolor:'#000', dtick:0.01, tick0:0, showgrid:false}}),
  xaxis2: Object.assign({}, axisBase, {anchor:'y2', domain:[0,1], range:XR, dtick:100, tick0:0, minor:minorX}),
  yaxis2: Object.assign({}, axisBase, {anchor:'x2', domain:[0,0.285], range:[-0.003,0.003], tickmode:'array', tickvals:resTickVals, ticktext:resTickText,
    minor:{ticks:'inside', ticklen:10, tickwidth:2, tickcolor:'#000', dtick:0.001, tick0:0, showgrid:false}}),
  shapes: shapes,
  annotations:[
    {text:yTitleText, xref:'paper', yref:'paper', x:PX(36), y:PY(406), xanchor:'center', yanchor:'middle', textangle:-90, showarrow:false,
     font:{family:FONT, size:32, color:'#000'}},
    {text:xTitleText, xref:'paper', yref:'paper', x:PX(668), y:PY(862), xanchor:'center', yanchor:'middle', showarrow:false,
     font:{family:FONT, size:30, color:'#000'}},
    {text:snrText, xref:'x2', yref:'y2', x:578.8, y:0.00108, xanchor:'center', yanchor:'middle', showarrow:false,
     font:{family:FONT, size:29.5, color:'#ffffff'}}
  ].concat(legendTexts)
};

Plotly.newPlot('chart', traces, layout, {staticPlot:true, displayModeBar:false});
</script>
</body>
</html>
